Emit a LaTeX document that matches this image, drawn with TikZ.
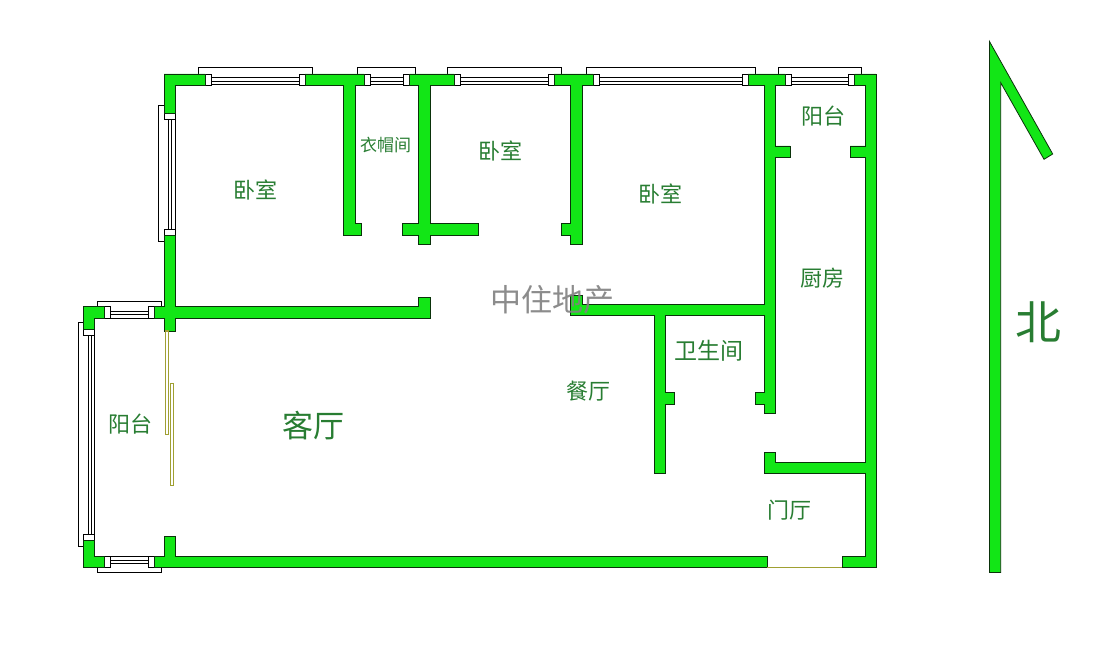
\documentclass[tikz,border=0pt]{standalone}
\usepackage{fontspec}
\newfontfamily\cjk{Noto Sans CJK SC}
\definecolor{wallgreen}{RGB}{18,230,22}
\definecolor{labelgreen}{RGB}{40,125,50}
\definecolor{edgedark}{RGB}{10,50,10}
\definecolor{slide}{RGB}{160,160,50}
\tikzset{
  wall/.style={fill=wallgreen,draw=edgedark,line width=0.8bp,line join=miter},
  glass/.style={draw=black,line width=1bp},
  jamb/.style={fill=white,draw=black,line width=0.9bp},
  slider/.style={fill=white,draw=slide,line width=1.2bp},
  room/.style={font=\cjk\fontsize{22bp}{24bp}\selectfont,text=labelgreen,inner sep=0pt},
}
% horizontal window: jamb1 x, jamb2 x, wall top, wall bottom, three line ys
\newcommand{\hglass}[7]{%
  \draw[glass] (#1,#5) -- (#2,#5) (#1,#6) -- (#2,#6) (#1,#7) -- (#2,#7);
  \draw[jamb] (#1,#3) -- ++(6.3,0) |- (#1,#4) -- cycle;
  \draw[jamb] (#2,#3) -- ++(6.3,0) |- (#2,#4) -- cycle;}
% vertical window: jamb1 y, jamb2 y, wall left, wall right, three line xs
\newcommand{\vglass}[7]{%
  \draw[glass] (#5,#1) -- (#5,#2) (#6,#1) -- (#6,#2) (#7,#1) -- (#7,#2);
  \draw[jamb] (#3,#1) rectangle (#4,#1+6);
  \draw[jamb] (#3,#2) rectangle (#4,#2+6);}
\begin{document}
\begin{tikzpicture}[x=1bp,y=-1bp]
\useasboundingbox (0,0) rectangle (1096,655);
% window outer frames
\draw[glass] (198,76) |- (312,68) -- (312,76);
\draw[glass] (357,76) |- (415,68) -- (415,76);
\draw[glass] (447,76) |- (561.6,68) -- (561.6,76);
\draw[glass] (586,76) |- (755.6,68) -- (755.6,76);
\draw[glass] (778,76) |- (861.6,68) -- (861.6,76);
\draw[glass] (166,106) -| (158.3,241.6) -- (166,241.6);
\draw[glass] (97.3,308) |- (161.7,301.7) -- (161.7,308);
\draw[glass] (97.3,566) |- (161.7,572.7) -- (161.7,566);
\draw[glass] (85,322.3) -| (78.3,546.7) -- (85,546.7);
% glazing
\hglass{205}{299}{74}{85}{78}{81.2}{85}
\hglass{364}{403.5}{74}{85}{78}{81.2}{85}
\hglass{454}{548}{74}{85}{78}{81.2}{85}
\hglass{593}{742}{74}{85}{78}{81.2}{85}
\hglass{785}{848.5}{74}{85}{78}{81.2}{85}
\hglass{104.3}{148}{306.7}{318.3}{311.7}{314.7}{318.3}
\hglass{104.3}{148}{556}{567.3}{556}{560}{563.3}
\vglass{113}{229.5}{164}{175}{168}{171.2}{175}
\vglass{329}{534.3}{83.3}{94.3}{88.3}{91.2}{94.3}
% walls
\draw[wall] (205,74) -- (164,74) -- (164,113) -- (175,113) -- (175,85) -- (205,85) -- cycle;
\draw[wall] (305,74) -- (364,74) -- (364,85) -- (355,85) -- (355,223) -- (361.7,223) -- (361.7,235.6) -- (343,235.6) -- (343,85) -- (305,85) -- cycle;
\draw[wall] (409.5,74) -- (454,74) -- (454,85) -- (430,85) -- (430,223) -- (478,223) -- (478,235.6) -- (430,235.6) -- (430,244) -- (418,244) -- (418,235.6) -- (402,235.6) -- (402,223) -- (418,223) -- (418,85) -- (409.5,85) -- cycle;
\draw[wall] (554,74) -- (593,74) -- (593,85) -- (582,85) -- (582,244) -- (570.7,244) -- (570.7,235.6) -- (561,235.6) -- (561,223) -- (570.7,223) -- (570.7,85) -- (554,85) -- cycle;
\draw[wall] (748,74) -- (785,74) -- (785,85) -- (775.7,85) -- (775.7,146) -- (790,146) -- (790,157.7) -- (775.7,157.7) -- (775.7,413) -- (764.3,413) -- (764.3,404) -- (755,404) -- (755,392) -- (764.3,392) -- (764.3,315.3) -- (665.7,315.3) -- (665.7,392) -- (674.7,392) -- (674.7,404) -- (665.7,404) -- (665.7,473.3) -- (654.3,473.3) -- (654.3,315.3) -- (570.7,315.3) -- (570.7,295) -- (582.7,295) -- (582.7,304.3) -- (764.3,304.3) -- (764.3,85) -- (748,85) -- cycle;
\draw[wall] (854.5,74) -- (876,74) -- (876,567.3) -- (842.3,567.3) -- (842.3,556) -- (865,556) -- (865,473.3) -- (764.3,473.3) -- (764.3,452.3) -- (775.7,452.3) -- (775.7,462.3) -- (865,462.3) -- (865,157.7) -- (850,157.7) -- (850,146) -- (865,146) -- (865,85) -- (854.5,85) -- cycle;
\draw[wall] (164.7,235.6) -- (175.7,235.6) -- (175.7,306.7) -- (418,306.7) -- (418,297) -- (430,297) -- (430,318.3) -- (175.7,318.3) -- (175.7,331) -- (164.7,331) -- (164.7,318.3) -- (154.3,318.3) -- (154.3,306.7) -- (164.7,306.7) -- cycle;
\draw[wall] (104.3,306.7) -- (83.3,306.7) -- (83.3,329.3) -- (94.3,329.3) -- (94.3,318.3) -- (104.3,318.3) -- cycle;
\draw[wall] (83.3,540) -- (94.3,540) -- (94.3,556) -- (104.3,556) -- (104.3,567.3) -- (83.3,567.3) -- cycle;
\draw[wall] (154.3,556) -- (164.7,556) -- (164.7,536.7) -- (175.7,536.7) -- (175.7,556) -- (767.3,556) -- (767.3,567.3) -- (154.3,567.3) -- cycle;
% door threshold
\draw[draw=slide,line width=1.2bp] (767.3,567.3) -- (842.3,567.3);
% sliding door
\draw[slider] (165.5,331) rectangle (168.7,434.3);
\draw[slider] (170.5,383.3) rectangle (173.7,485.3);
% north arrow
\draw[wall] (989.5,572.5) -- (989.5,41.5) -- (1052.7,154) -- (1044,159.3) -- (1000.7,82.7) -- (1000.7,572.5) -- cycle;
% labels
\node[room] (bedW) at (255.5,190) {卧室};
\node[room,font=\cjk\fontsize{17bp}{18bp}\selectfont] (closet) at (385.5,145) {衣帽间};
\node[room] (bedM) at (500,151) {卧室};
\node[room] (bedE) at (660,194) {卧室};
\node[room] (balN) at (823.5,116) {阳台};
\node[room] (kitchen) at (822,278) {厨房};
\node[room,font=\cjk\fontsize{23bp}{24bp}\selectfont] (bath) at (709,351) {卫生间};
\node[room] (dining) at (588.5,391) {餐厅};
\node[room] (foyer) at (789.5,510) {门厅};
\node[room] (balW) at (130,424) {阳台};
\node[room,font=\cjk\fontsize{31bp}{33bp}\selectfont] (living) at (313.5,426) {客厅};
\node[room,font=\cjk\fontsize{46bp}{48bp}\selectfont] (north) at (1038,322) {北};
\node[inner sep=0pt,font=\cjk\fontsize{31bp}{33bp}\selectfont,text=black!50,opacity=0.9] (mark) at (552.5,300) {中住地产};
\end{tikzpicture}
\end{document}
